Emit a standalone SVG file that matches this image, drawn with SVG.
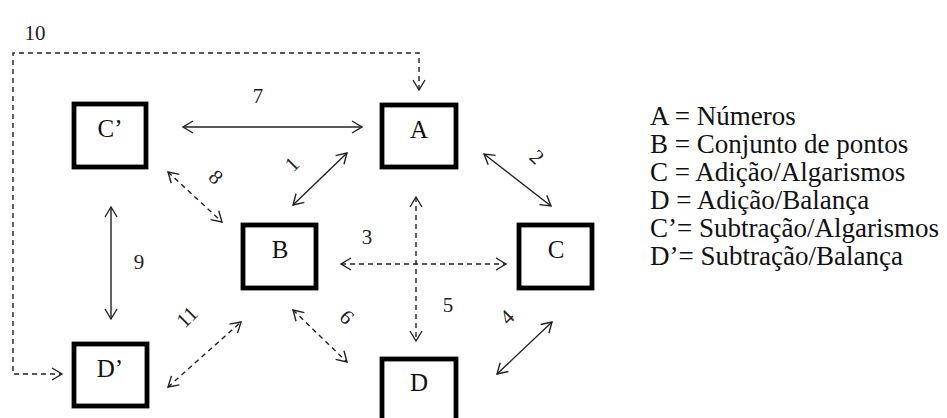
<svg xmlns="http://www.w3.org/2000/svg" width="947" height="418" viewBox="0 0 947 418">
<style>
.box{fill:#fff;stroke:#000;stroke-width:4.8}
.lbl{font-family:"Liberation Serif","Times New Roman",serif;font-size:25px;fill:#111;text-anchor:middle}
.num{font-family:"Liberation Serif","Times New Roman",serif;font-size:21px;fill:#222;text-anchor:middle;dominant-baseline:central}
.leg{font-family:"Liberation Serif","Times New Roman",serif;font-size:27px;fill:#111}
.c{fill:none;stroke:#222;stroke-width:1.4;marker-start:url(#ah);marker-end:url(#ah)}
.d{stroke-dasharray:5 4}
</style>
<defs>
<marker id="ah" markerUnits="userSpaceOnUse" markerWidth="14" markerHeight="14" viewBox="-1 -7 12 14" refX="10" refY="0" orient="auto-start-reverse">
<path d="M0,-6 L10,0 L0,6" fill="none" stroke="#222" stroke-width="1.4" stroke-dasharray="none"/>
</marker>
</defs>
<rect width="947" height="418" fill="#fff"/>
<g id="connectors">
<path class="c d" d="M419,90 V53 H13 V374 H62"/>
<line class="c" x1="183" y1="127" x2="362" y2="127"/>
<line class="c" x1="293" y1="205" x2="347" y2="153"/>
<line class="c d" x1="168" y1="172" x2="222" y2="222"/>
<line class="c" x1="484" y1="154" x2="551" y2="206"/>
<line class="c d" x1="341" y1="264" x2="506" y2="264"/>
<line class="c d" x1="416" y1="197" x2="416" y2="341"/>
<line class="c" x1="497" y1="374" x2="552" y2="322"/>
<line class="c d" x1="293" y1="310" x2="347" y2="362"/>
<line class="c d" x1="168" y1="387" x2="241" y2="322"/>
<line class="c" x1="111" y1="207" x2="111" y2="319"/>
<text class="num" x="35" y="33">10</text>
<text class="num" x="258" y="96">7</text>
<text class="num" x="292" y="164" transform="rotate(-45 292 164)">1</text>
<text class="num" x="216" y="177" transform="rotate(45 216 177)">8</text>
<text class="num" x="537" y="157" transform="rotate(45 537 157)">2</text>
<text class="num" x="367" y="237">3</text>
<text class="num" x="448" y="305">5</text>
<text class="num" x="507" y="317" transform="rotate(-45 507 317)">4</text>
<text class="num" x="347" y="317" transform="rotate(45 347 317)">6</text>
<text class="num" x="187" y="317" transform="rotate(-45 187 317)">11</text>
<text class="num" x="139" y="262">9</text>
</g>
<g id="nodeCp"><rect class="box" x="74" y="104" width="72" height="63"/><text class="lbl" x="110" y="137">C’</text></g>
<g id="nodeA"><rect class="box" x="382" y="105" width="74" height="62"/><text class="lbl" x="419" y="138">A</text></g>
<g id="nodeB"><rect class="box" x="243" y="225" width="73" height="63"/><text class="lbl" x="280" y="258">B</text></g>
<g id="nodeC"><rect class="box" x="519" y="225" width="73" height="63"/><text class="lbl" x="556" y="258">C</text></g>
<g id="nodeD"><rect class="box" x="382" y="359" width="74" height="66"/><text class="lbl" x="419" y="391">D</text></g>
<g id="nodeDp"><rect class="box" x="74" y="344" width="73" height="62"/><text class="lbl" x="110" y="377">D’</text></g>
<g id="legend">
<text class="leg" x="650" y="125">A = Números</text>
<text class="leg" x="650" y="153">B = Conjunto de pontos</text>
<text class="leg" x="650" y="181">C = Adição/Algarismos</text>
<text class="leg" x="650" y="209">D = Adição/Balança</text>
<text class="leg" x="650" y="237">C’= Subtração/Algarismos</text>
<text class="leg" x="650" y="265">D’= Subtração/Balança</text>
</g>
</svg>
